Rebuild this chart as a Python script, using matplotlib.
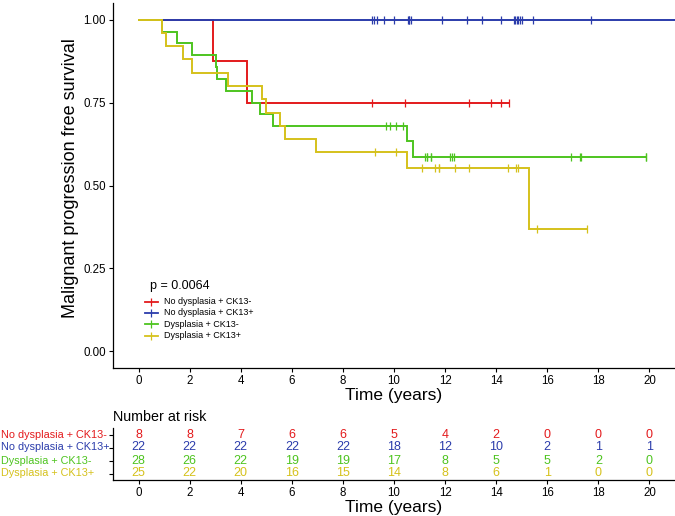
"""Kaplan-Meier curves for malignant progression with a number-at-risk table."""

import matplotlib

matplotlib.use("Agg")
import matplotlib.pyplot as plt
import matplotlib.transforms as mtransforms
import numpy as np

plt.rcParams["font.family"] = ["Liberation Sans", "DejaVu Sans"]

groups = ["No dysplasia + CK13-", "No dysplasia + CK13+", "Dysplasia + CK13-", "Dysplasia + CK13+"]
colors = ["#E31A1C", "#2B3CAB", "#4DC41F", "#D5C11B"]

# event times and survival right after each event, censor times, last follow-up
red_times = [2.92, 4.26]
red_surv = [0.875, 0.75]
red_censor = [9.12, 10.44, 12.95, 13.78, 14.2, 14.52]
red_end = 14.52

blue_times = []
blue_surv = []
blue_censor = [9.12, 9.23, 9.33, 9.6, 10.01, 10.54, 10.6, 10.6, 10.67, 11.87, 12.86, 13.44,
               14.2, 14.69, 14.75, 14.8, 14.85, 14.92, 15.01, 15.45, 17.7]
blue_end = 21.0

green_times = [0.93, 1.52, 2.08, 3.02, 3.08, 3.44, 4.43, 4.76, 5.25, 10.51, 10.76]
green_surv = [0.964, 0.929, 0.893, 0.857, 0.821, 0.786, 0.75, 0.714, 0.679, 0.634, 0.585]
green_censor = [9.69, 9.86, 10.09, 10.35, 11.22, 11.29, 11.29, 11.45, 11.45, 12.18, 12.26, 12.34,
                16.94, 17.28, 17.33, 19.87, 19.87]
green_end = 19.87

yellow_times = [0.93, 1.08, 1.75, 2.08, 3.52, 4.85, 5.0, 5.52, 5.75, 6.94, 10.51, 15.27]
yellow_surv = [0.96, 0.92, 0.88, 0.84, 0.80, 0.76, 0.72, 0.68, 0.64, 0.60, 0.554, 0.368]
yellow_censor = [9.27, 10.09, 11.11, 11.62, 11.78, 11.78, 12.37, 12.94, 14.46, 14.78, 14.85, 15.6, 17.54]
yellow_end = 17.54

risk_times = [0, 2, 4, 6, 8, 10, 12, 14, 16, 18, 20]
risk_red = [8, 8, 7, 6, 6, 5, 4, 2, 0, 0, 0]
risk_blue = [22, 22, 22, 22, 22, 18, 12, 10, 2, 1, 1]
risk_green = [28, 26, 22, 19, 19, 17, 8, 5, 5, 2, 0]
risk_yellow = [25, 22, 20, 16, 15, 14, 8, 6, 1, 0, 0]

p_label = "p = 0.0064"

curves = [
    (red_times, red_surv, red_censor, red_end),
    (blue_times, blue_surv, blue_censor, blue_end),
    (green_times, green_surv, green_censor, green_end),
    (yellow_times, yellow_surv, yellow_censor, yellow_end),
]
risks = [risk_red, risk_blue, risk_green, risk_yellow]

W, H = 675, 516
fig = plt.figure(figsize=(W / 100, H / 100), dpi=100)
left_px, right_px = 113, 675
ax = fig.add_axes([left_px / W, 1 - 368 / H, (right_px - left_px) / W, (368 - 3) / H])
ax_risk = fig.add_axes([left_px / W, 1 - 480 / H, (right_px - left_px) / W, 52 / H])

for (times, surv, censor, end), color in zip(curves, colors):
    xs = np.array([0.0, *times, end])
    ys = np.array([1.0, *surv, surv[-1] if surv else 1.0])
    ax.step(xs, ys, where="post", color=color, lw=1.4, solid_joinstyle="miter")
    idx = np.searchsorted(xs[:-1], censor, side="right") - 1
    ax.plot(censor, ys[idx], ls="none", marker="|", ms=6, mew=0.9, color=color)

ax.set_xlim(-1, 21)
ax.set_ylim(-0.05, 1.05)
ax.set_xticks(range(0, 21, 2))
ax.set_yticks([0, 0.25, 0.5, 0.75, 1.0])
ax.set_yticklabels(["0.00", "0.25", "0.50", "0.75", "1.00"])
ax.set_xlabel("Time (years)", fontsize=12.5, labelpad=1)
ax.set_ylabel("Malignant progression free survival", fontsize=13, labelpad=3, y=0.52)

# p-value and legend, drawn inside the plot
ax.text(0.43, 0.198, p_label, fontsize=9, va="center", ha="left")
for i, (name, color) in enumerate(zip(groups, colors)):
    y = 0.150 - i * 0.0341
    ax.plot([0.235, 0.745], [y, y], color=color, lw=1.3)
    ax.plot([0.49], [y], marker="|", ms=5.5, mew=0.9, color=color)
    ax.text(0.98, y, name, fontsize=6.5, va="center", ha="left")

# number at risk table
for row, (counts, color) in enumerate(zip(risks, colors), start=1):
    for t, n in zip(risk_times, counts):
        ax_risk.text(t, row, str(n), ha="center", va="center", fontsize=9, color=color)
ax_risk.set_xlim(-1, 21)
ax_risk.set_ylim(4.5, 0.5)
ax_risk.set_xticks(risk_times)
ax_risk.set_yticks([1, 2, 3, 4])
ax_risk.set_yticklabels([])
label_tf = mtransforms.blended_transform_factory(fig.transFigure, ax_risk.transData)
for row, (name, color) in enumerate(zip(groups, colors), start=1):
    ax_risk.text(1 / W, row, name, transform=label_tf, ha="left", va="center",
                 fontsize=7.8, color=color)
ax_risk.set_xlabel("Time (years)", fontsize=12.5, labelpad=1)
ax_risk.set_title("Number at risk", fontsize=10.3, loc="left", pad=5)

for a in (ax, ax_risk):
    for side in ("top", "right"):
        a.spines[side].set_visible(False)
    for side in ("left", "bottom"):
        a.spines[side].set_linewidth(0.9)
    a.tick_params(length=3, width=0.8, labelsize=8.3, pad=2, colors="black")

fig.savefig("out.png", dpi=100)
